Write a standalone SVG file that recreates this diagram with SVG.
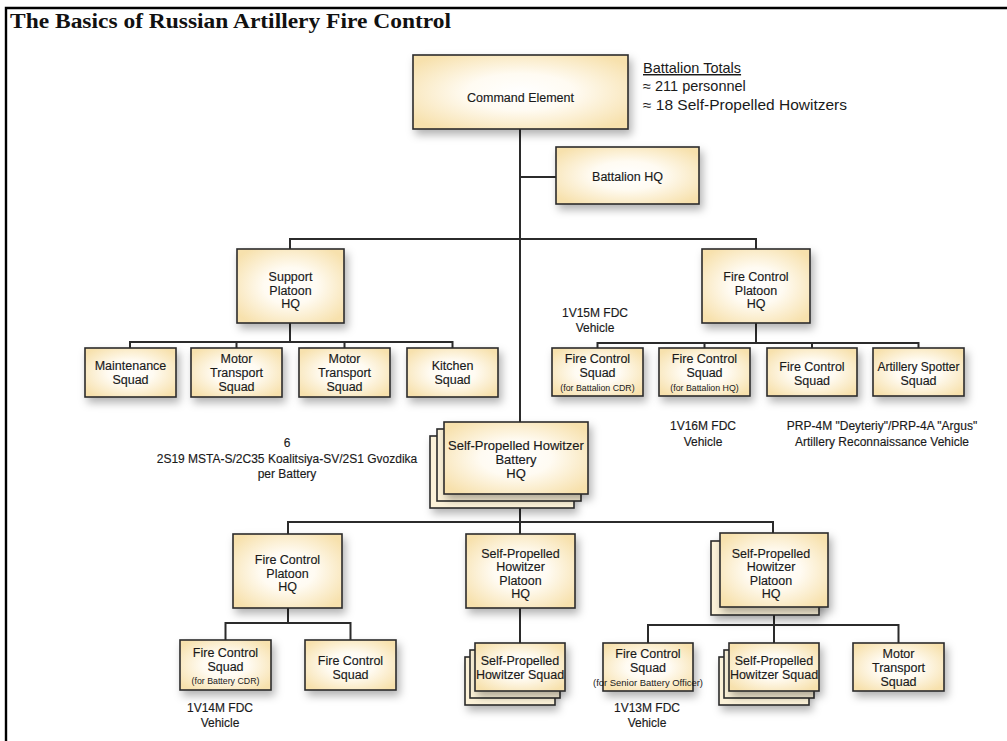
<svg xmlns="http://www.w3.org/2000/svg" width="1007" height="741" viewBox="0 0 1007 741">
<style>
.bx{fill:url(#g);stroke:#2b2b2b;stroke-width:1.6;filter:url(#sh)}
.bk{fill:#fcf2d8;stroke:#2b2b2b;stroke-width:1.6}
.bk2{fill:#fcf2d8;stroke:#2b2b2b;stroke-width:1.6;filter:url(#sh)}
.t{font-family:"Liberation Sans",Arial,sans-serif;font-size:12.5px;fill:#1a1a1a;text-anchor:middle;stroke:#1a1a1a;stroke-width:0.15}
.s{font-family:"Liberation Sans",Arial,sans-serif;font-size:8.8px;fill:#1a1a1a;text-anchor:middle}
.l{font-family:"Liberation Sans",Arial,sans-serif;font-size:12px;fill:#1a1a1a;text-anchor:middle;stroke:#1a1a1a;stroke-width:0.15}
.c{fill:none;stroke:#2b2b2b;stroke-width:2}
</style>
<defs>
<radialGradient id="g" cx="50%" cy="50%" r="62%">
<stop offset="0" stop-color="#ffffff"/>
<stop offset="0.4" stop-color="#fffbf2"/>
<stop offset="1" stop-color="#f7e1ad"/>
</radialGradient>
<filter id="sh" x="-20%" y="-20%" width="150%" height="170%">
<feDropShadow dx="3" dy="5" stdDeviation="4" flood-color="#000" flood-opacity="0.3"/>
</filter>
</defs>
<rect x="0" y="0" width="1007" height="741" fill="#fff"/>
<path d="M6 741V8H1007" fill="none" stroke="#000" stroke-width="2.4"/>
<text x="10" y="28" font-family="Liberation Serif,'Times New Roman',serif" font-weight="bold" font-size="20" fill="#111" textLength="441" lengthAdjust="spacingAndGlyphs">The Basics of Russian Artillery Fire Control</text>

<g id="connectors">
<path class="c" d="M520 129V522M520 177H556M290 249V239H756V249"/>
<path class="c" d="M290 323V342M130 348V342H452.5V348M236.5 342V348M344.5 342V348"/>
<path class="c" d="M756 323V343M597.5 348V343H918.5V348M704.5 343V348M812 343V348"/>
<path class="c" d="M288 534V522H773V533M520 522V534"/>
<path class="c" d="M288 608V623M225.5 640V623H350.5V640"/>
<path class="c" d="M520 608V643"/>
<path class="c" d="M774 607V625M648 643V625H898.5V643M774 625V643"/>
</g>

<g id="command-element">
<rect class="bx" x="413" y="55" width="215" height="74"/>
<text class="t" x="520.5" y="101.5">Command Element</text>
</g>
<g id="battalion-totals">
<text x="643" y="73" font-family="Liberation Sans,Arial,sans-serif" font-size="14.5" fill="#1a1a1a" text-decoration="underline">Battalion Totals</text>
<text x="643" y="91" font-family="Liberation Sans,Arial,sans-serif" font-size="14.5" fill="#1a1a1a">≈ 211 personnel</text>
<text x="643" y="110" font-family="Liberation Sans,Arial,sans-serif" font-size="14.5" fill="#1a1a1a" textLength="204" lengthAdjust="spacingAndGlyphs">≈ 18 Self-Propelled Howitzers</text>
</g>
<g id="battalion-hq">
<rect class="bx" x="556" y="147" width="143" height="57"/>
<text class="t" x="627.5" y="181">Battalion HQ</text>
</g>

<g id="support-platoon-hq">
<rect class="bx" x="237" y="249" width="107" height="74"/>
<text class="t" x="290.5" y="280.5">Support</text>
<text class="t" x="290.5" y="294.5">Platoon</text>
<text class="t" x="290.5" y="308">HQ</text>
</g>
<g id="maintenance-squad">
<rect class="bx" x="85" y="348" width="91" height="49"/>
<text class="t" x="130.5" y="370">Maintenance</text>
<text class="t" x="130.5" y="384">Squad</text>
</g>
<g id="motor-transport-squad-1">
<rect class="bx" x="191" y="348" width="91" height="49"/>
<text class="t" x="236.5" y="363">Motor</text>
<text class="t" x="236.5" y="377">Transport</text>
<text class="t" x="236.5" y="391">Squad</text>
</g>
<g id="motor-transport-squad-2">
<rect class="bx" x="299" y="348" width="91" height="49"/>
<text class="t" x="344.5" y="363">Motor</text>
<text class="t" x="344.5" y="377">Transport</text>
<text class="t" x="344.5" y="391">Squad</text>
</g>
<g id="kitchen-squad">
<rect class="bx" x="407" y="348" width="91" height="49"/>
<text class="t" x="452.5" y="370">Kitchen</text>
<text class="t" x="452.5" y="384">Squad</text>
</g>

<g id="fire-control-platoon-hq">
<rect class="bx" x="702" y="249" width="108" height="74"/>
<text class="t" x="756" y="280.5">Fire Control</text>
<text class="t" x="756" y="294.5">Platoon</text>
<text class="t" x="756" y="308">HQ</text>
</g>
<g id="label-1v15m">
<text class="l" x="595" y="316.5">1V15M FDC</text>
<text class="l" x="595" y="331.5">Vehicle</text>
</g>
<g id="fcs-battalion-cdr">
<rect class="bx" x="552" y="348" width="91" height="48"/>
<text class="t" x="597.5" y="362.5">Fire Control</text>
<text class="t" x="597.5" y="377">Squad</text>
<text class="s" x="597.5" y="391">(for Battalion CDR)</text>
</g>
<g id="fcs-battalion-hq">
<rect class="bx" x="659" y="348" width="91" height="48"/>
<text class="t" x="704.5" y="362.5">Fire Control</text>
<text class="t" x="704.5" y="377">Squad</text>
<text class="s" x="704.5" y="391">(for Battalion HQ)</text>
</g>
<g id="fire-control-squad-1">
<rect class="bx" x="767" y="348" width="90" height="48"/>
<text class="t" x="812" y="371">Fire Control</text>
<text class="t" x="812" y="385">Squad</text>
</g>
<g id="artillery-spotter-squad">
<rect class="bx" x="873" y="348" width="91" height="48"/>
<text class="t" x="918.5" y="371" style="font-size:12px">Artillery Spotter</text>
<text class="t" x="918.5" y="385">Squad</text>
</g>
<g id="label-1v16m">
<text class="l" x="703" y="429.5">1V16M FDC</text>
<text class="l" x="703" y="445.5">Vehicle</text>
</g>
<g id="label-prp">
<text class="l" x="882" y="429.5">PRP-4M "Deyteriy"/PRP-4A "Argus"</text>
<text class="l" x="882" y="445.5">Artillery Reconnaissance  Vehicle</text>
</g>

<g id="label-6">
<text class="l" x="287" y="447">6</text>
<text class="l" x="287" y="463">2S19 MSTA-S/2C35 Koalitsiya-SV/2S1 Gvozdika</text>
<text class="l" x="287" y="478">per Battery</text>
</g>
<g id="battery-hq">
<rect class="bk2" x="430" y="436" width="144" height="72"/>
<rect class="bk" x="437" y="429" width="144" height="72"/>
<rect class="bx" x="444" y="422" width="144" height="72"/>
<text class="t" x="516" y="450" style="font-size:13px">Self-Propelled Howitzer</text>
<text class="t" x="516" y="464" style="font-size:13px">Battery</text>
<text class="t" x="516" y="478" style="font-size:13px">HQ</text>
</g>

<g id="battery-fire-control-platoon-hq">
<rect class="bx" x="233" y="534" width="109" height="74"/>
<text class="t" x="287.5" y="564">Fire Control</text>
<text class="t" x="287.5" y="577.5">Platoon</text>
<text class="t" x="287.5" y="591">HQ</text>
</g>
<g id="fcs-battery-cdr">
<rect class="bx" x="180" y="640" width="91" height="50"/>
<text class="t" x="225.5" y="656.5">Fire Control</text>
<text class="t" x="225.5" y="670.5">Squad</text>
<text class="s" x="225.5" y="684">(for Battery CDR)</text>
</g>
<g id="fire-control-squad-2">
<rect class="bx" x="305" y="640" width="91" height="50"/>
<text class="t" x="350.5" y="664.5">Fire Control</text>
<text class="t" x="350.5" y="678.5">Squad</text>
</g>
<g id="label-1v14m">
<text class="l" x="220" y="712">1V14M FDC</text>
<text class="l" x="220" y="727">Vehicle</text>
</g>

<g id="sp-platoon-hq-1">
<rect class="bx" x="466" y="534" width="109" height="74"/>
<text class="t" x="520.5" y="557.5">Self-Propelled</text>
<text class="t" x="520.5" y="571">Howitzer</text>
<text class="t" x="520.5" y="584.5">Platoon</text>
<text class="t" x="520.5" y="598">HQ</text>
</g>
<g id="sp-squad-1">
<rect class="bk2" x="465" y="657" width="90" height="48"/>
<rect class="bk" x="470" y="650" width="90" height="48"/>
<rect class="bx" x="475" y="643" width="90" height="48"/>
<text class="t" x="520" y="664.5">Self-Propelled</text>
<text class="t" x="520" y="678.5">Howitzer Squad</text>
</g>

<g id="sp-platoon-hq-2">
<rect class="bk2" x="711" y="541" width="108" height="74"/>
<rect class="bx" x="720" y="533" width="108" height="74"/>
<text class="t" x="771" y="557.5">Self-Propelled</text>
<text class="t" x="771" y="571">Howitzer</text>
<text class="t" x="771" y="584.5">Platoon</text>
<text class="t" x="771" y="598">HQ</text>
</g>
<g id="fcs-senior-battery-officer">
<rect class="bx" x="603" y="643" width="90" height="48"/>
<text class="t" x="648" y="657.5">Fire Control</text>
<text class="t" x="648" y="671.5">Squad</text>
<text class="s" x="648" y="686" textLength="110" lengthAdjust="spacingAndGlyphs">(for Senior Battery Officer)</text>
</g>
<g id="sp-squad-2">
<rect class="bk2" x="719" y="657" width="90" height="48"/>
<rect class="bk" x="724" y="650" width="90" height="48"/>
<rect class="bx" x="729" y="643" width="90" height="48"/>
<text class="t" x="774" y="664.5">Self-Propelled</text>
<text class="t" x="774" y="678.5">Howitzer Squad</text>
</g>
<g id="motor-transport-squad-3">
<rect class="bx" x="853" y="643" width="91" height="48"/>
<text class="t" x="898.5" y="657.5">Motor</text>
<text class="t" x="898.5" y="671.5">Transport</text>
<text class="t" x="898.5" y="685.5">Squad</text>
</g>
<g id="label-1v13m">
<text class="l" x="647" y="712">1V13M FDC</text>
<text class="l" x="647" y="727">Vehicle</text>
</g>
</svg>
